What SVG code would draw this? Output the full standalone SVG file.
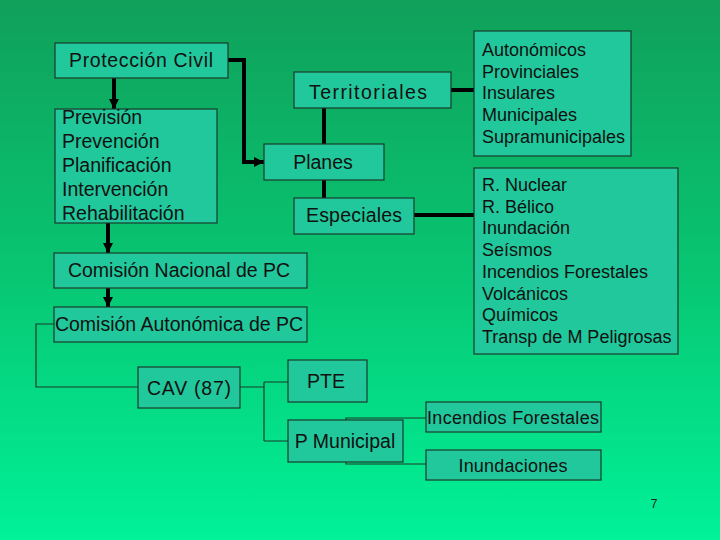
<svg xmlns="http://www.w3.org/2000/svg" width="720" height="540" viewBox="0 0 720 540">
<defs>
<linearGradient id="bg" x1="0" y1="0" x2="0" y2="1">
<stop offset="0" stop-color="#10a05a"/>
<stop offset="0.5" stop-color="#08c572"/>
<stop offset="1" stop-color="#00f298"/>
</linearGradient>
<marker id="ah" viewBox="0 0 10 10" refX="10" refY="5" markerWidth="2.5" markerHeight="2.5" orient="auto" markerUnits="strokeWidth">
<path d="M0,0 L10,5 L0,10 z" fill="#000"/>
</marker>
<style>
.box{fill:#20c89c;stroke:#1b3b2b;stroke-width:1.2}
.t{font-family:"Liberation Sans","Noto Sans",sans-serif;font-size:19.5px;fill:#111}
.s{font-family:"Liberation Sans","Noto Sans",sans-serif;font-size:18px;fill:#111}
.c{text-anchor:middle}
.thick{fill:none;stroke:#000;stroke-width:4}
.thin{fill:none;stroke:#1b3b2b;stroke-width:1.2}
</style>
</defs>
<rect width="720" height="540" fill="url(#bg)"/>
<g id="connectors">
<path class="thick" d="M114,78 V109" marker-end="url(#ah)"/>
<path class="thick" d="M228,60 H244 V162 H264" marker-end="url(#ah)"/>
<path class="thick" d="M324,108 V144 M324,180 V198"/>
<path class="thick" d="M451,90 H474"/>
<path class="thick" d="M414,215 H474"/>
<path class="thick" d="M108,223 V253" marker-end="url(#ah)"/>
<path class="thick" d="M108,288 V307" marker-end="url(#ah)"/>
<path class="thin" d="M54,324 H36 V387 H138"/>
<path class="thin" d="M240,387 H264 M264,382 V441 M264,382 H288 M264,441 H288"/>
<path class="thin" d="M346,420 V418 H426"/>
<path class="thin" d="M346,462 V464 H426"/>
</g>
<g id="proteccion"><rect class="box" x="55" y="43" width="173" height="35"/><text class="t c" x="141" y="67" textLength="144">Protección Civil</text></g>
<g id="prevision"><rect class="box" x="55" y="109" width="162" height="114"/>
<text class="t" x="62" y="124">Previsión</text><text class="t" x="62" y="148">Prevención</text><text class="t" x="62" y="172">Planificación</text><text class="t" x="62" y="196">Intervención</text><text class="t" x="62" y="220">Rehabilitación</text></g>
<g id="territoriales"><rect class="box" x="294" y="72" width="157" height="36"/><text class="t c" x="368" y="99" textLength="118">Territoriales</text></g>
<g id="planes"><rect class="box" x="264" y="144" width="120" height="36"/><text class="t c" x="323" y="169">Planes</text></g>
<g id="especiales"><rect class="box" x="294" y="198" width="120" height="36"/><text class="t c" x="354" y="222" textLength="96">Especiales</text></g>
<g id="autonomicos"><rect class="box" x="474" y="31" width="157" height="125"/>
<text class="s" x="482" y="56">Autonómicos</text><text class="s" x="482" y="77.7">Provinciales</text><text class="s" x="482" y="99.4">Insulares</text><text class="s" x="482" y="121">Municipales</text><text class="s" x="482" y="143">Supramunicipales</text></g>
<g id="riesgos"><rect class="box" x="474" y="168" width="204" height="186"/>
<text class="s" x="482" y="191">R. Nuclear</text><text class="s" x="482" y="212.7">R. Bélico</text><text class="s" x="482" y="234.4">Inundación</text><text class="s" x="482" y="256">Seísmos</text><text class="s" x="482" y="277.8">Incendios Forestales</text><text class="s" x="482" y="299.5">Volcánicos</text><text class="s" x="482" y="321">Químicos</text><text class="s" x="482" y="343">Transp de M Peligrosas</text></g>
<g id="cnpc"><rect class="box" x="54" y="253" width="253" height="35"/><text class="t c" x="179" y="277">Comisión Nacional de PC</text></g>
<g id="capc"><rect class="box" x="54" y="307" width="253" height="35"/><text class="t c" x="179" y="331">Comisión Autonómica de PC</text></g>
<g id="cav"><rect class="box" x="138" y="367" width="102" height="41"/><text class="t c" x="189" y="395" textLength="84">CAV (87)</text></g>
<g id="pte"><rect class="box" x="288" y="360" width="79" height="42"/><text class="t c" x="326" y="388">PTE</text></g>
<g id="pmunicipal"><rect class="box" x="288" y="420" width="115" height="42"/><text class="t c" x="345" y="448">P Municipal</text></g>
<g id="incendios"><rect class="box" x="426" y="402" width="175" height="30"/><text class="s c" x="513" y="424" textLength="172">Incendios Forestales</text></g>
<g id="inundaciones"><rect class="box" x="426" y="450" width="175" height="30"/><text class="s c" x="513" y="472" textLength="109">Inundaciones</text></g>
<text x="654" y="508" font-family="Liberation Sans, sans-serif" font-size="12" fill="#222" text-anchor="middle">7</text>
</svg>
